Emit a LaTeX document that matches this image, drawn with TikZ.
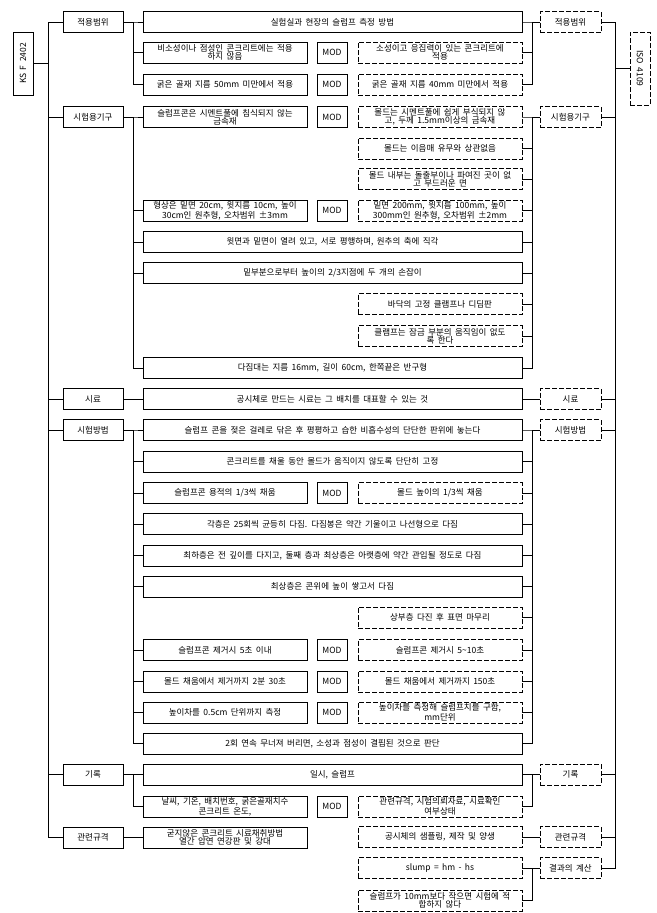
\documentclass[tikz,border=0pt]{standalone}
\usepackage{fontspec}
\setmainfont{Noto Sans CJK KR}[WordSpace=1.8]
\tikzset{
  box/.style={draw,line width=0.9pt,minimum height=21pt,inner sep=0.5pt,align=center,
    font=\fontsize{8.5}{8.3}\selectfont},
  ksbox/.style={box,minimum width=164pt},
  isobox/.style={box,minimum width=164pt,dash pattern=on 5pt off 2pt},
  widebox/.style={box,minimum width=379pt},
  modbox/.style={box,minimum width=30pt},
  kscat/.style={box,minimum width=60pt},
  isocat/.style={box,minimum width=61pt,dash pattern=on 5pt off 2pt},
  link/.style={line width=0.8pt}
}
\begin{document}
\begin{tikzpicture}[x=1pt,y=-1pt]
  \useasboundingbox (0,0) rectangle (656,913);
  % roots
  \node[box,minimum width=20pt,minimum height=63pt] (ksroot) at (23,63.5) {\rotatebox{90}{KS F 2402}};
  \node[box,minimum width=20pt,minimum height=73pt,dash pattern=on 5pt off 2pt] (isoroot) at (640,68.5) {\rotatebox{-90}{ISO 4109}};
  % categories
  \node[kscat] (kc1) at (93,22) {적용범위};
  \node[kscat] (kc2) at (93,117) {시험용기구};
  \node[kscat] (kc3) at (93,399) {시료};
  \node[kscat] (kc4) at (93,430) {시험방법};
  \node[kscat] (kc5) at (93,774.5) {기록};
  \node[kscat] (kc6) at (93,837.5) {관련규격};
  \node[isocat] (ic1) at (570.5,22) {적용범위};
  \node[isocat] (ic2) at (570.5,117) {시험용기구};
  \node[isocat] (ic3) at (570.5,399) {시료};
  \node[isocat] (ic4) at (570.5,430) {시험방법};
  \node[isocat] (ic5) at (570.5,774.5) {기록};
  \node[isocat] (ic6) at (570.5,837) {관련규격};
  \node[isocat] (ic7) at (570.5,868) {결과의 계산};
  % scope
  \node[widebox] (wA) at (332.5,22) {실험실과 현장의 슬럼프 측정 방법};
  \node[ksbox] (kB) at (225,52.5) {비소성이나 점성인 콘크리트에는 적용\\하지 않음};
  \node[modbox] (mB) at (332,52.5) {MOD};
  \node[isobox] (iB) at (440,52.5) {소성이고 응집력이 있는 콘크리트에\\적용};
  \node[ksbox] (kC) at (225,84.5) {굵은 골재 지름 50mm 미만에서 적용};
  \node[modbox] (mC) at (332,84.5) {MOD};
  \node[isobox] (iC) at (440,84.5) {굵은 골재 지름 40mm 미만에서 적용};
  % apparatus
  \node[ksbox] (kD) at (225,117) {슬럼프콘은 시멘트풀에 침식되지 않는\\금속재};
  \node[modbox] (mD) at (332,117) {MOD};
  \node[isobox] (iD) at (440,117) {몰드는 시멘트풀에 쉽게 부식되지 않\\고, 두께 1.5mm이상의 금속재};
  \node[isobox] (iE) at (440,148.5) {몰드는 이음매 유무와 상관없음};
  \node[isobox] (iF) at (440,179) {몰드 내부는 돌출부이나 파여진 곳이 없\\고 부드러운 면};
  \node[ksbox] (kG) at (225,210.5) {형상은 밑면 20cm, 윗지름 10cm, 높이\\30cm인 원추형, 오차범위 ±3mm};
  \node[modbox] (mG) at (332,210.5) {MOD};
  \node[isobox] (iG) at (440,210.5) {밑면 200mm, 윗지름 100mm, 높이\\300mm인 원추형, 오차범위 ±2mm};
  \node[widebox] (wH) at (332.5,242) {윗면과 밑면이 열려 있고, 서로 평행하며, 원추의 축에 직각};
  \node[widebox] (wI) at (332.5,273) {밑부분으로부터 높이의 2/3지점에 두 개의 손잡이};
  \node[isobox] (iJ) at (440,304) {바닥의 고정 클램프나 디딤판};
  \node[isobox] (iK) at (440,336) {클램프는 잠금 부분의 움직임이 없도\\록 한다};
  \node[widebox] (wL) at (332.5,368) {다짐대는 지름 16mm, 길이 60cm, 한쪽끝은 반구형};
  % sample
  \node[widebox] (wM) at (332.5,399) {공시체로 만드는 시료는 그 배치를 대표할 수 있는 것};
  % procedure
  \node[widebox] (wN) at (332.5,430) {슬럼프 콘을 젖은 걸레로 닦은 후 평평하고 습한 비흡수성의 단단한 판위에 놓는다};
  \node[widebox] (wO) at (332.5,461.5) {콘크리트를 채울 동안 몰드가 움직이지 않도록 단단히 고정};
  \node[ksbox] (kP) at (225,493) {슬럼프콘 용적의 1/3씩 채움};
  \node[modbox] (mP) at (332,493) {MOD};
  \node[isobox] (iP) at (440,493) {몰드 높이의 1/3씩 채움};
  \node[widebox] (wQ) at (332.5,524) {각층은 25회씩 균등히 다짐. 다짐봉은 약간 기울이고 나선형으로 다짐};
  \node[widebox] (wR) at (332.5,555.5) {최하층은 전 깊이를 다지고, 둘째 층과 최상층은 아랫층에 약간 관입될 정도로 다짐};
  \node[widebox] (wS) at (332.5,586.5) {최상층은 콘위에 높이 쌓고서 다짐};
  \node[isobox] (iT) at (440,617.5) {상부층 다진 후 표면 마무리};
  \node[ksbox] (kU) at (225,650) {슬럼프콘 제거시 5초 이내};
  \node[modbox] (mU) at (332,650) {MOD};
  \node[isobox] (iU) at (440,650) {슬럼프콘 제거시 5\textasciitilde10초};
  \node[ksbox] (kV) at (225,681.5) {몰드 채움에서 제거까지 2분 30초};
  \node[modbox] (mV) at (332,681.5) {MOD};
  \node[isobox] (iV) at (440,681.5) {몰드 채움에서 제거까지 150초};
  \node[ksbox] (kW) at (225,712.5) {높이차를 0.5cm 단위까지 측정};
  \node[modbox] (mW) at (332,712.5) {MOD};
  \node[isobox] (iW) at (440,712.5) {높이차를 측정해 슬럼프치를 구함,\\mm단위};
  \node[widebox] (wX) at (332.5,743.5) {2회 연속 무너져 버리면, 소성과 점성이 결핍된 것으로 판단};
  % report
  \node[widebox] (wY) at (332.5,774.5) {일시, 슬럼프};
  \node[ksbox] (kZ) at (225,806.5) {날씨, 기온, 배치번호, 굵은골재치수\\콘크리트 온도,};
  \node[modbox] (mZ) at (332,806.5) {MOD};
  \node[isobox] (iZ) at (440,806.5) {관련규격, 시험의뢰자료, 시료확인\\여부상태};
  % references and result
  \node[ksbox] (kAA) at (225,837.5) {굳지않은 콘크리트 시료채취방법\\열간 압연 연강판 및 강대};
  \node[isobox] (iAA) at (440,837) {공시체의 샘플링, 제작 및 양생};
  \node[isobox] (iBB) at (440,868) {slump = hm - hs};
  \node[isobox] (iCC) at (440,900.5) {슬럼프가 10mm보다 작으면 시험에 적\\합하지 않다};
  % trunks
  \draw[link] (ksroot.east) -- ++(15,0) |- (kc1.west)
    (ksroot.east) -- ++(15,0) |- (kc2.west)
    (ksroot.east) -- ++(15,0) |- (kc3.west)
    (ksroot.east) -- ++(15,0) |- (kc4.west)
    (ksroot.east) -- ++(15,0) |- (kc5.west)
    (ksroot.east) -- ++(15,0) |- (kc6.west);
  \draw[link] (isoroot.west) -- ++(-14,0) |- (ic1.east)
    (isoroot.west) -- ++(-14,0) |- (ic2.east)
    (isoroot.west) -- ++(-14,0) |- (ic3.east)
    (isoroot.west) -- ++(-14,0) |- (ic4.east)
    (isoroot.west) -- ++(-14,0) |- (ic5.east)
    (isoroot.west) -- ++(-14,0) |- (ic6.east)
    (isoroot.west) -- ++(-14,0) |- (ic7.east);
  % left branches
  \draw[link] (kc1.east) -- ++(10,0) |- (wA.west)
    (kc1.east) -- ++(10,0) |- (kB.west)
    (kc1.east) -- ++(10,0) |- (kC.west);
  \draw[link] (kc2.east) -- ++(10,0) |- (kD.west)
    (kc2.east) -- ++(10,0) |- (kG.west)
    (kc2.east) -- ++(10,0) |- (wH.west)
    (kc2.east) -- ++(10,0) |- (wI.west)
    (kc2.east) -- ++(10,0) |- (wL.west);
  \draw[link] (kc3.east) -- (wM.west);
  \draw[link] (kc4.east) -- ++(10,0) |- (wN.west)
    (kc4.east) -- ++(10,0) |- (wO.west)
    (kc4.east) -- ++(10,0) |- (kP.west)
    (kc4.east) -- ++(10,0) |- (wQ.west)
    (kc4.east) -- ++(10,0) |- (wR.west)
    (kc4.east) -- ++(10,0) |- (wS.west)
    (kc4.east) -- ++(10,0) |- (kU.west)
    (kc4.east) -- ++(10,0) |- (kV.west)
    (kc4.east) -- ++(10,0) |- (kW.west)
    (kc4.east) -- ++(10,0) |- (wX.west);
  \draw[link] (kc5.east) -- ++(10,0) |- (wY.west)
    (kc5.east) -- ++(10,0) |- (kZ.west);
  \draw[link] (kc6.east) -- (kAA.west);
  % right branches
  \draw[link] (wA.east) -- ++(10,0) |- (ic1.west)
    (iB.east) -- ++(10,0) |- (ic1.west)
    (iC.east) -- ++(10,0) |- (ic1.west);
  \draw[link] (iD.east) -- ++(10,0) |- (ic2.west)
    (iE.east) -- ++(10,0) |- (ic2.west)
    (iF.east) -- ++(10,0) |- (ic2.west)
    (iG.east) -- ++(10,0) |- (ic2.west)
    (wH.east) -- ++(10,0) |- (ic2.west)
    (wI.east) -- ++(10,0) |- (ic2.west)
    (iJ.east) -- ++(10,0) |- (ic2.west)
    (iK.east) -- ++(10,0) |- (ic2.west)
    (wL.east) -- ++(10,0) |- (ic2.west);
  \draw[link] (wM.east) -- (ic3.west);
  \draw[link] (wN.east) -- ++(10,0) |- (ic4.west)
    (wO.east) -- ++(10,0) |- (ic4.west)
    (iP.east) -- ++(10,0) |- (ic4.west)
    (wQ.east) -- ++(10,0) |- (ic4.west)
    (wR.east) -- ++(10,0) |- (ic4.west)
    (wS.east) -- ++(10,0) |- (ic4.west)
    (iT.east) -- ++(10,0) |- (ic4.west)
    (iU.east) -- ++(10,0) |- (ic4.west)
    (iV.east) -- ++(10,0) |- (ic4.west)
    (iW.east) -- ++(10,0) |- (ic4.west)
    (wX.east) -- ++(10,0) |- (ic4.west);
  \draw[link] (wY.east) -- ++(10,0) |- (ic5.west)
    (iZ.east) -- ++(10,0) |- (ic5.west);
  \draw[link] (iAA.east) -- (ic6.west);
  \draw[link] (iBB.east) -- ++(10,0) |- (ic7.west)
    (iCC.east) -- ++(10,0) |- (ic7.west);
\end{tikzpicture}
\end{document}
